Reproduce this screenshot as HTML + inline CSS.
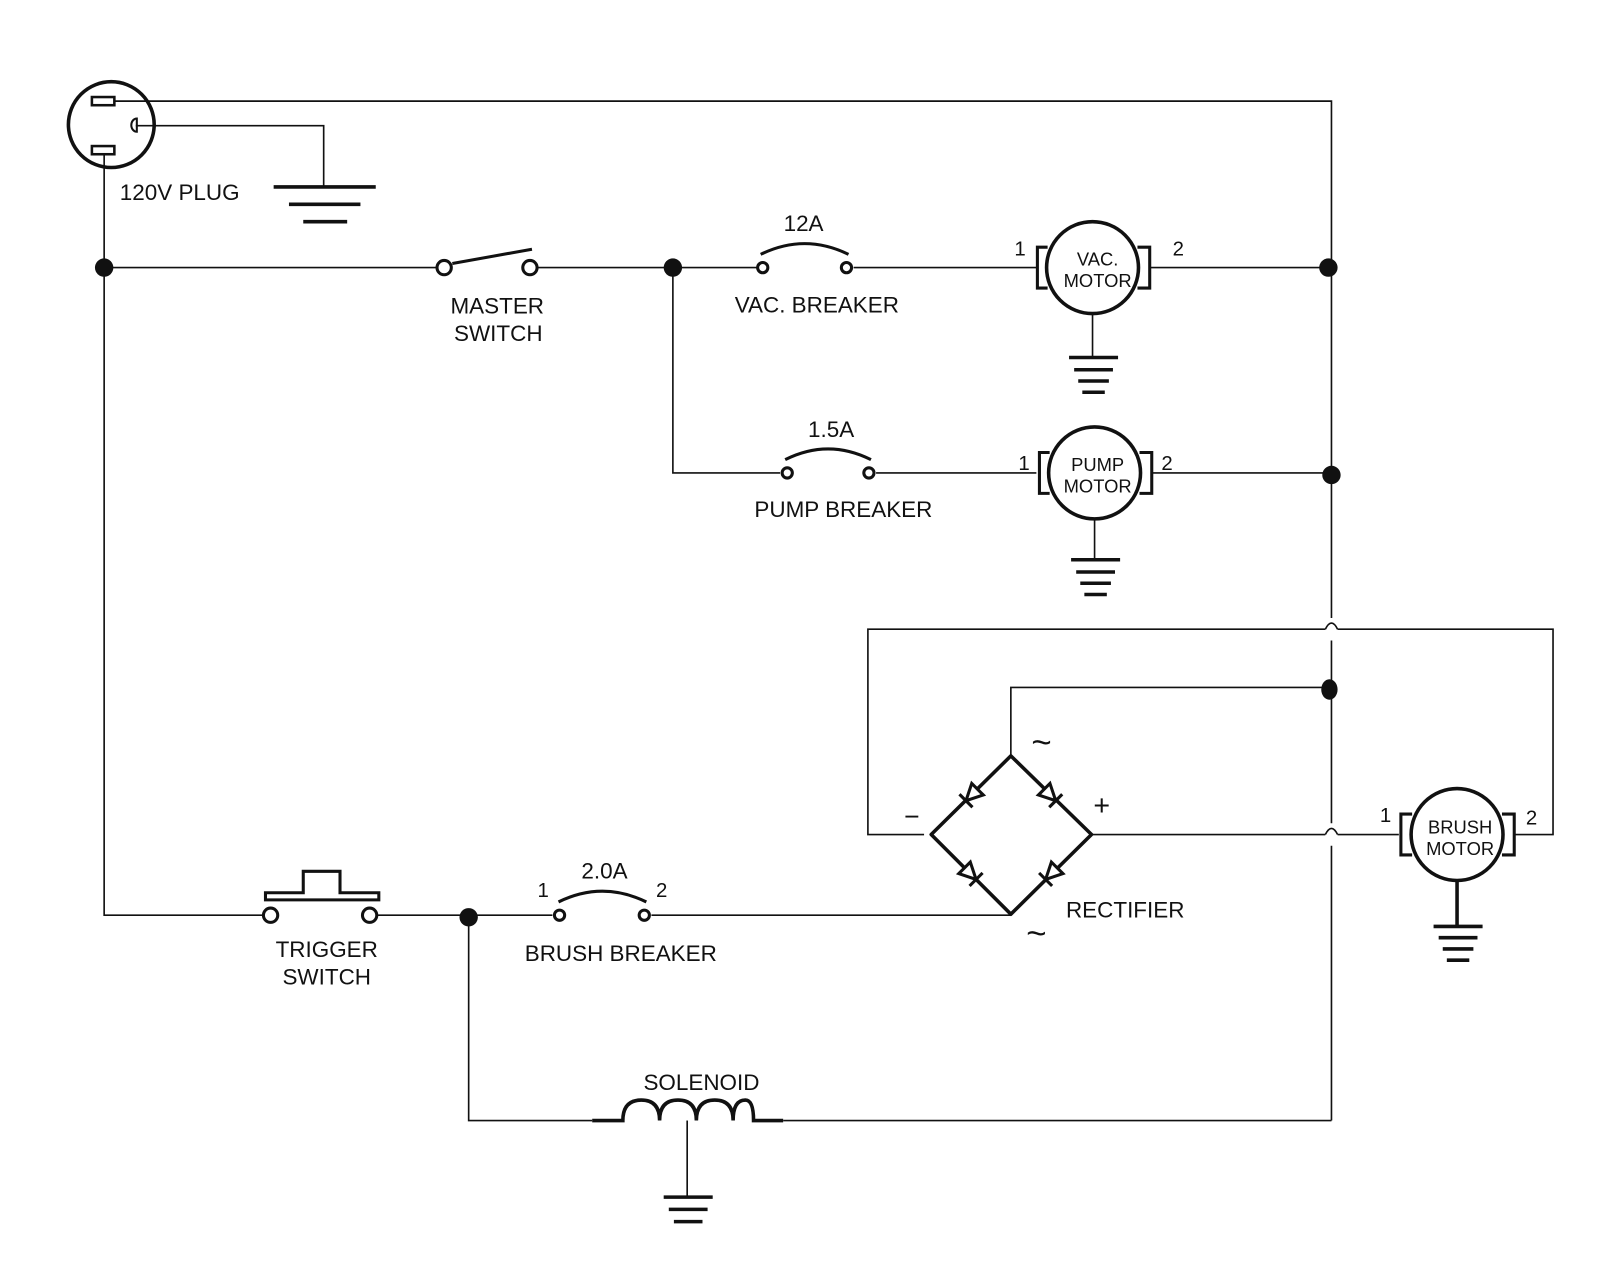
<!DOCTYPE html>
<html><head><meta charset="utf-8"><style>
html,body{margin:0;padding:0;background:#fff;}
svg{display:block}
text{font-family:"Liberation Sans",Arial,sans-serif;font-size:22px;fill:#111;text-anchor:middle}
</style></head><body>
<svg width="1600" height="1286" viewBox="0 0 1567 1259" preserveAspectRatio="none" xmlns="http://www.w3.org/2000/svg">
<g fill="none" stroke="#111" stroke-width="1.6">
<polyline points="112,99 1304,99 1304,605"/>
<path d="M1304,627 V806 M1304,828 V1097"/>
<path d="M1298,616 q6,-12 12,0 M1298,817 q6,-12 12,0"/>
<polyline points="133,123 317,123 317,183"/>
<polyline points="102,152 102,896 258,896"/>
<line x1="102" y1="262" x2="428" y2="262"/>
<line x1="527" y1="262" x2="741" y2="262"/>
<line x1="836" y1="262" x2="1015" y2="262"/>
<line x1="1127" y1="262" x2="1304" y2="262"/>
<polyline points="659,262 659,463 764,463"/>
<line x1="858" y1="463" x2="1015" y2="463"/>
<line x1="1129" y1="463" x2="1304" y2="463"/>
<polyline points="1298,616 850,616 850,817 905,817"/>
<polyline points="1310,616 1521,616 1521,817 1483,817"/>
<line x1="1069" y1="817" x2="1298" y2="817"/>
<line x1="1310" y1="817" x2="1370" y2="817"/>
<polyline points="990,740 990,673 1301,673"/>
<line x1="369" y1="896" x2="541" y2="896"/>
<line x1="638" y1="896" x2="990" y2="896"/>
<polyline points="459,898 459,1097 580,1097"/>
<line x1="767" y1="1097" x2="1304" y2="1097"/>
<line x1="673" y1="1097" x2="673" y2="1172"/>
<line x1="1070" y1="307" x2="1070" y2="350"/>
<line x1="1072" y1="508" x2="1072" y2="548"/>
</g>
<g fill="none" stroke="#111" stroke-width="3.5">
<circle cx="109" cy="122" r="42"/>
<rect x="90" y="95" width="22" height="8" stroke-width="2.5"/>
<rect x="90" y="143" width="22" height="8" stroke-width="2.5"/>
<path d="M134,116 a5,6 0 0 0 0,13 z" stroke-width="2"/>
<path d="M268,183 H368 M283,200 H353 M297,217 H340"/>
<path d="M1047,350 H1095 M1052,362 H1090 M1056,373 H1086 M1060,384 H1082"/>
<path d="M1049,548 H1097 M1054,560 H1092 M1058,571 H1088 M1062,582 H1084"/>
<path d="M1404,907 H1452 M1409,918 H1447 M1413,929 H1443 M1417,940 H1439"/>
<path d="M650,1172 H698 M655,1184 H693 M660,1196 H688"/>
<circle cx="435" cy="262" r="7" stroke-width="3"/>
<circle cx="519" cy="262" r="7" stroke-width="3"/>
<line x1="443" y1="258" x2="521" y2="244" stroke-width="3"/>
<circle cx="747" cy="262" r="5" stroke-width="3"/><circle cx="829" cy="262" r="5" stroke-width="3"/>
<path d="M745,249 Q788,228 831,249" stroke-width="3"/>
<circle cx="771" cy="463" r="5" stroke-width="3"/><circle cx="851" cy="463" r="5" stroke-width="3"/>
<path d="M769,450 Q811,429 853,450" stroke-width="3"/>
<circle cx="548" cy="896" r="5" stroke-width="3"/><circle cx="631" cy="896" r="5" stroke-width="3"/>
<path d="M547,883 Q590,862 633,883" stroke-width="3"/>
<circle cx="1070" cy="262" r="45"/>
<path d="M1026,242 H1016 V282 H1026 M1114,242 H1126 V282 H1114" stroke-width="3"/>
<circle cx="1072" cy="463" r="45"/>
<path d="M1028,443 H1018 V483 H1028 M1116,443 H1128 V483 H1116" stroke-width="3"/>
<circle cx="1427" cy="817" r="45"/>
<line x1="1427" y1="862" x2="1427" y2="907"/>
<path d="M1383,797 H1372 V837 H1383 M1471,797 H1483 V837 H1471" stroke-width="3"/>
<polygon points="990,740 912,817 990,895 1069,817" stroke-linejoin="round"/>
<circle cx="265" cy="896" r="7" stroke-width="3"/><circle cx="362" cy="896" r="7" stroke-width="3"/>
<path d="M260,881 V874 H297 V853 H333 V874 H371 V881 Z" stroke-width="3"/>
<path d="M580,1097 H610 Q610,1077 628,1077 Q646,1077 646,1097 Q646,1077 664,1077 Q682,1077 682,1097 Q682,1077 700,1077 Q718,1077 718,1097 Q718,1077 730,1077 Q738,1077 738,1097 H767" stroke-width="3.5"/>
</g>
<g fill="#fff" stroke="#111" stroke-width="3">
<g transform="translate(951,779) rotate(-45)"><polygon points="9,-8 9,8 -7,0"/><line x1="-7" y1="-9" x2="-7" y2="9"/></g>
<g transform="translate(1029,779) rotate(45)"><polygon points="-9,-8 -9,8 7,0"/><line x1="7" y1="-9" x2="7" y2="9"/></g>
<g transform="translate(951,856) rotate(45)"><polygon points="-9,-8 -9,8 7,0"/><line x1="7" y1="-9" x2="7" y2="9"/></g>
<g transform="translate(1029,856) rotate(-45)"><polygon points="9,-8 9,8 -7,0"/><line x1="-7" y1="-9" x2="-7" y2="9"/></g>
</g>
<g fill="#111">
<circle cx="102" cy="262" r="9"/><circle cx="659" cy="262" r="9"/>
<circle cx="1301" cy="262" r="9"/><circle cx="1304" cy="465" r="9"/>
<ellipse cx="1302" cy="675" rx="8" ry="10"/><circle cx="459" cy="898" r="9"/>
</g>
<text x="176" y="196">120V PLUG</text>
<text x="487" y="307">MASTER</text><text x="488" y="334">SWITCH</text>
<text x="787" y="226">12A</text><text x="800" y="306">VAC. BREAKER</text>
<text x="814" y="428">1.5A</text><text x="826" y="506">PUMP BREAKER</text>
<text x="999" y="250" style="font-size:20px">1</text><text x="1154" y="250" style="font-size:20px">2</text>
<text x="1075" y="260" style="font-size:18px">VAC.</text><text x="1075" y="281" style="font-size:18px">MOTOR</text>
<text x="1003" y="460" style="font-size:20px">1</text><text x="1143" y="460" style="font-size:20px">2</text>
<text x="1075" y="461" style="font-size:18px">PUMP</text><text x="1075" y="482" style="font-size:18px">MOTOR</text>
<text x="1430" y="816" style="font-size:18px">BRUSH</text><text x="1430" y="837" style="font-size:18px">MOTOR</text>
<text x="1357" y="805" style="font-size:20px">1</text><text x="1500" y="807" style="font-size:20px">2</text>
<text x="1020" y="738" style="font-size:34px">~</text><text x="1015" y="925" style="font-size:34px">~</text>
<text x="893" y="808" style="font-size:26px">−</text><text x="1079" y="798" style="font-size:28px">+</text>
<text x="1102" y="898">RECTIFIER</text>
<text x="320" y="937">TRIGGER</text><text x="320" y="964">SWITCH</text>
<text x="592" y="860">2.0A</text><text x="532" y="878" style="font-size:20px">1</text><text x="648" y="878" style="font-size:20px">2</text>
<text x="608" y="941">BRUSH BREAKER</text>
<text x="687" y="1067">SOLENOID</text>
</svg>
</body></html>
